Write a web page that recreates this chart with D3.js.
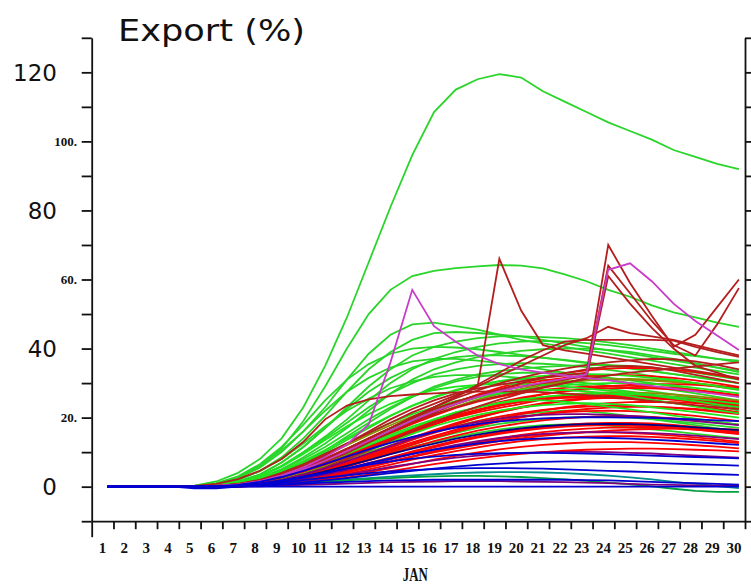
<!DOCTYPE html>
<html>
<head>
<meta charset="utf-8">
<script src="https://cdn.jsdelivr.net/npm/d3@7"></script>
<style>
  html, body { margin: 0; padding: 0; background: #fff; }
  svg { display: block; }
</style>
</head>
<body>
<script>
// Daily export share (%) of ensemble members, January, days 1-30
const days = [1,2,3,4,5,6,7,8,9,10,11,12,13,14,15,16,17,18,19,20,21,22,23,24,25,26,27,28,29,30];
const yTickValues = [-10,0,10,20,30,40,50,60,70,80,90,100,110,120,130];
const bigYLabels = ["120","80","40","0"];
const bigYValues = [120,80,40,0];
const smallYLabels = ["100.","60.","20."];
const smallYValues = [100,60,20];
const monthLabel = "JAN";
const titleText = "Export (%)";

const greenSeries = [
  [0,0,0,0,0.3,1.5,4,8,14,23,35,49,65,81,96,108.5,115,118,119.5,118.5,114.5,111.5,108.5,105.5,103,100.5,97.5,95.5,93.5,92],
  [0,0,0,0,0,0.8,2.5,6,11,19,29,40,50,57,61,62.5,63.3,63.8,64.2,64,63.2,61.5,59.5,57,55,52.5,50.5,49,47.5,46.3],
  [0,0,0,0,0,0.8,2.5,5.5,10,16,23,31,38.5,44,47,47.5,46.5,45.5,44,42.5,41.5,40.5,39.5,38.5,37.5,36.5,35.5,34.5,33.5,32.5],
  [0,0,0,0,0,0.6,2,4.5,8.5,14,20.5,27.5,34,39,42.5,44.5,44.8,44.5,44,43.5,42.5,41.5,40.5,39.5,38.5,37.5,36.5,35.5,34.5,33.5],
  [0,0,0,0,0,0.5,1.5,3.5,7,11.5,17,23,29,34,38,40.5,42,43,43.5,43.5,43.3,43,42.5,41.8,41,40,39,38,37,36],
  [0,0,0,0,0,0.4,1.2,3,6,10,14.5,19.5,25,30,34,37,39,40.5,41.5,42,42.2,42,41.6,41,40.2,39.3,38.5,37.8,37,36.5],
  [0,0,0,0,0,0.3,1,2.5,5,8.5,12.5,17,22,27,31,34,36,37.5,38.5,39.3,39.8,40,40,39.6,39,38,37,35.8,34.5,33.2],
  [0,0,0,0,0,0.5,1.5,3.5,7,11.5,17,22.5,27.5,31.5,34.5,36.5,37.5,38,38,37.8,37.3,36.7,36,35.2,34.4,33.5,32.6,31.7,30.8,30],
  [0,0,0,0,0,0.4,1.3,3,6,10,14,18.5,23,27,30,32.5,34,35,35.5,35.8,35.6,35.2,34.6,33.8,33,32,31,30,29,28],
  [0,0,0,0,0,0.2,0.8,2,4,7,10.5,14.5,18.5,22.5,26,29,31,32.5,33.5,34.2,34.7,35,35.2,35.2,35,34.5,33.8,33,32,31],
  [0,0,0,0,0,0.3,1,2.5,5,8,11.5,15.5,19.5,23,26,28.5,30.5,31.8,32.6,33,33,32.8,32.3,31.6,30.8,30,29,28,27,26],
  [0,0,0,0,0,0.3,1,2.3,4.5,7,10,13.5,17,20.5,23.5,26,28,29.5,30.5,31,31,30.6,30,29.3,28.5,27.6,26.7,25.8,24.9,24],
  [0,0,0,0,0,0.2,0.6,1.4,2.6,4.2,6,8,10,12,14,16,17.6,19,20.2,21,21.6,22,21.8,21.2,20.4,19.6,18.7,17.8,16.9,16],
  [0,0,0,0,0,0.1,0.3,0.8,1.7,3,4.5,6.3,8.2,10.2,12.2,14,15.6,17,18.2,19,19.6,20,20.2,20.3,20,19.6,19,18.4,17.7,17],
  [0,0,0,0,0,0.1,0.4,1,2,3.2,4.6,6.2,8,9.8,11.5,13,14.4,15.6,16.6,17.3,17.8,18,18,17.7,17.2,16.6,16,15.3,14.6,14],
  [0,0,0,0,0.2,1,3,6.5,11.5,18,25,31,35.5,38.5,40,40.5,40.3,39.8,39,38.2,37.4,36.6,35.8,35,34.2,33.4,32.6,31.8,31,30],
  [0,0,0,0,0.2,0.9,2.7,6,10.5,16,22,27.5,31.5,34.5,36.3,37,37,36.5,35.8,35,34,33,32,31,30,29,28,27,26,25],
  [0,0,0,0,0.1,0.7,2,4.5,8,12.5,17.5,22,25.5,28.5,30.5,31.8,32.3,32.3,32,31.5,30.8,30,29.2,28.4,27.5,26.5,25.5,24.5,23.3,22]
];

// Members drawn above the red ones
const greenLateSeries = [
  [0,0,0,0,0,0.2,0.6,1.5,3,5,7.5,10.5,13.5,16.5,19.5,22,24,25.8,27,28,28.8,29.4,29.8,30,30,29.8,29.3,28.6,27.8,27],
  [0,0,0,0,0,0.3,0.9,2,4,6.5,9.5,12.5,15.5,18.5,21,23,24.8,26,27,27.6,28,28,27.6,27,26.2,25.2,24.2,23.2,22.2,21.2],
  [0,0,0,0,0,0.2,0.6,1.5,3,5,7,9.5,12,14.5,17,19.5,21.5,23,24.3,25.3,26,26.5,26.8,27,26.8,26.4,25.6,24.8,23.8,23],
  [0,0,0,0,0,0.2,0.7,1.6,3,5,7.5,10,12.5,15,17.5,19.5,21.5,23,24.2,25,25,24.6,24,23.2,22.4,21.5,20.6,19.7,18.8,18],
  [0,0,0,0,0,0.1,0.4,1,2.2,3.8,5.8,8,10.5,13,15.3,17.5,19.3,20.8,22,23,23.6,24,24.2,24,23.6,23,22.3,21.6,20.8,20],
  [0,0,0,0,0,0.4,1.3,3,5.8,9.5,13.5,17.5,21,24,26.3,28,29,29.5,29.8,29.8,29.5,29,28.4,27.8,27.2,26.6,26,25.4,24.8,24],
  [0,0,0,0,0,0.3,1,2.4,4.6,7.4,10.6,14,17.4,20.6,23.4,25.8,27.8,29.4,30.6,31.5,32.1,32.5,32.6,32.5,32.1,31.5,30.8,30,29.1,28.2]
];

const oliveSeries = [
  [0,0,0,0,0,0.1,0.5,1.3,2.7,4.6,7,9.7,12.6,15.5,18.3,20.9,23.2,25.2,26.9,28.3,29.4,30.2,30.8,31.1,31.2,31,30.6,30,29.3,28.5],
  [0,0,0,0,0,0.1,0.4,1.1,2.3,4,6.1,8.5,11,13.5,16,18.3,20.4,22.2,23.7,24.9,25.9,26.6,27.1,27.3,27.3,27.1,26.7,26.2,25.6,24.9],
  [0,0,0,0,0,0.2,0.8,2,3.8,6.2,9,12,15,17.8,20.4,22.7,24.7,26.4,27.8,28.9,29.8,30.4,30.8,31,31,30.7,30.3,29.7,29,28.2]
];

const redSeries = [
  [0,0,0,0,0,0,0.3,1,2.2,4,6,8.5,11,13.5,16,18.3,20.3,22,23.5,24.7,25.6,26.2,26.6,26.8,26.8,26.5,26,25.4,24.6,23.8],
  [0,0,0,0,0,0,0.4,1.2,2.6,4.6,7,9.8,12.6,15.5,18.2,20.6,22.8,24.6,26,27.2,28,28.6,29,29.2,29.2,29,28.6,28,27.3,26.5],
  [0,0,0,0,0,0,0.3,0.9,2,3.5,5.2,7.2,9.3,11.5,13.6,15.6,17.4,19,20.3,21.4,22.2,22.8,23.2,23.4,23.4,23.2,22.8,22.3,21.7,21],
  [0,0,0,0,0,0.1,0.5,1.3,2.7,4.6,6.8,9.2,11.6,14,16.2,18.2,20,21.5,22.8,24,25.3,26.6,25.8,26,27,25.8,25.2,24.6,23.9,23.2],
  [0,0,0,0,0,0,0.2,0.7,1.6,2.8,4.2,5.8,7.6,9.5,11.4,13.2,14.8,16.2,17.4,18.4,19.2,19.8,20.2,20.4,20.4,20.2,19.8,19.3,18.7,18],
  [0,0,0,0,0,0.1,0.4,1.1,2.4,4.2,6.4,8.9,11.6,14.3,16.8,19.1,21.2,23,24.5,25.8,26.8,27.6,28.2,28.5,28.6,28.5,28.2,27.7,27,26.2],
  [0,0,0,0,0,0,0.2,0.6,1.3,2.4,3.7,5.2,6.8,8.5,10.2,11.8,13.3,14.6,15.7,16.6,17.3,17.8,18.1,18.2,18.1,17.8,17.4,16.9,16.3,15.6],
  [0,0,0,0,0,0.1,0.5,1.3,2.8,4.8,7.2,10,13,16,19,21.8,24.4,26.7,28.7,30.4,31.8,32.9,33.7,34.2,34.4,34.3,33.9,33.2,32.3,31.2],
  [0,0,0,0,0,0,0.3,0.8,1.8,3.2,4.8,6.7,8.7,10.8,12.8,14.7,16.4,17.9,19.2,20.2,21,21.6,21.9,22,21.9,21.6,21.1,20.5,19.8,19],
  [0,0,0,0,0,0,0.1,0.4,1,1.9,3,4.3,5.8,7.3,8.8,10.2,11.5,12.7,13.7,14.5,15.1,15.5,15.7,15.7,15.5,15.2,14.8,14.3,13.7,13],
  [0,0,0,0,0,0.1,0.4,1.2,2.5,4.3,6.5,9,11.6,14.2,16.6,18.8,20.7,22.3,23.6,24.6,25.3,25.7,25.8,25.7,25.4,24.9,24.2,23.4,22.5,21.5],
  [0,0,0,0,0,0,0.3,0.9,2,3.6,5.6,7.9,10.4,13,15.5,17.9,20.1,22.1,23.9,25.4,26.7,27.7,28.5,29.1,29.5,29.7,29.7,29.5,29.1,28.6],
  [0,0,0,0,0,0,0.2,0.6,1.4,2.6,4.1,5.9,7.9,10,12.1,14.1,15.9,17.5,18.9,20.1,21.1,21.9,22.5,22.9,23.1,23.1,22.9,22.5,22,21.4],
  [0,0,0,0,0,0,0.1,0.3,0.8,1.5,2.5,3.7,5,6.4,7.8,9.1,10.3,11.4,12.4,13.2,13.8,14.2,14.5,14.6,14.6,14.4,14.1,13.7,13.2,12.6],
  [0,0,0,0,0,0.1,0.5,1.4,2.9,5,7.6,10.5,13.6,16.7,19.6,22.2,24.5,26.5,28.2,29.6,30.7,31.5,32,32.3,32.3,32,31.5,30.8,29.9,28.9],
  [0,0,0,0,0,0,0.2,0.7,1.6,2.9,4.5,6.4,8.4,10.5,12.6,14.6,16.5,18.2,19.7,21,22.1,23,23.7,24.2,24.5,24.6,24.5,24.2,23.8,23.3],
  [0,0,0,0,0,0,0.2,0.5,1.2,2.2,3.5,5,6.6,8.3,10,11.6,13.1,14.4,15.5,16.5,17.3,17.9,18.3,18.5,18.5,18.3,17.9,17.3,16.6,15.8],
  [0,0,0,0,0,0,0.1,0.3,0.7,1.3,2.1,3.1,4.2,5.4,6.6,7.8,8.9,9.9,10.8,11.5,12.1,12.5,12.8,12.9,12.9,12.7,12.4,12,11.6,11.1],
  [0,0,0,0,0,0.1,0.4,1,2.2,3.9,6,8.4,11,13.6,16.1,18.4,20.4,22.1,23.5,24.6,25.4,25.9,26.2,26.3,26.2,25.9,25.4,24.8,24.1,23.3],
  [0,0,0,0,0,0,0.3,0.8,1.8,3.3,5.1,7.2,9.5,11.9,14.2,16.4,18.4,20.2,21.8,23.1,24.2,25,25.6,26,26.2,26.2,26,25.6,25.1,24.5],
  [0,0,0,0,0,0,0.1,0.4,0.9,1.7,2.8,4.1,5.6,7.1,8.7,10.2,11.6,12.9,14,15,15.8,16.4,16.8,17.1,17.2,17.1,16.9,16.5,16,15.4],
  [0,0,0,0,0,0,0.2,0.6,1.5,2.8,4.5,6.5,8.8,11.2,13.6,15.9,18,19.9,21.5,22.9,24,24.9,25.5,25.9,26,25.9,25.5,25,24.3,23.5],
  [0,0,0,0,0,0,0.1,0.5,1.1,2.1,3.3,4.8,6.4,8.1,9.8,11.4,12.9,14.2,15.3,16.2,16.9,17.4,17.7,17.8,17.7,17.4,17,16.5,15.9,15.2],
  [0,0,0,0,0,0,0.2,0.7,1.7,3.1,4.9,7,9.3,11.7,14,16.2,18.2,20,21.6,22.9,24,24.8,25.4,25.7,25.8,25.6,25.2,24.6,23.8,22.9],
  [0,0,0,0,0,0,0.1,0.3,0.6,1.1,1.8,2.6,3.5,4.5,5.5,6.5,7.4,8.2,8.9,9.5,10,10.4,10.7,10.9,11,11,10.9,10.7,10.5,10.2],
  [0,0,0,0,0,0,0.2,0.5,1.1,2,3.1,4.4,5.8,7.2,8.6,9.9,11.1,12.2,13.2,14,14.7,15.3,15.8,16.2,16.5,16.7,16.8,16.8,16.7,16.5]
];

const darkRedSeries = [
  [0,0,0,0,0,0.2,0.8,2,4,6.5,9.5,12.5,15.5,18.5,21.5,24,26.5,29,66,51,41,39.5,38.5,37.5,36.5,35.5,34.5,33.5,32.5,31.5],
  [0,0,0,0,0,0.2,0.7,1.8,3.6,6,9,12.5,16,19.5,22.5,25,27,28.5,29.5,30.5,31.5,32.2,33,70,59,49.5,40.5,44,52,60],
  [0,0,0,0,0,0.2,0.6,1.6,3.2,5.4,8,11,14,17,19.8,22.4,24.6,26.4,27.8,29,30,31,32,64,56,48,41,38,47,57.5],
  [0,0,0,0,0,0.1,0.5,1.4,2.9,5,7.5,10.3,13.2,16,18.6,21,23,24.8,26.3,27.6,28.8,30,31.5,61,53,46,40,35,33,31],
  [0,0,0,0,0,0.2,0.6,1.6,3.2,5.4,8,11,14,17,20,23,26,29,32,35,38,41,43,46.3,44.5,43.5,42.5,41,39.5,38],
  [0,0,0,0,0,0.2,0.7,1.7,3.4,5.6,8.2,11,14,17,20,23,26,29.5,33,36.5,39.5,42,42.5,42.5,42.5,42.5,42.3,40.5,39,37.6],
  [0,0,0,0,0.2,0.8,2.2,4.6,8,13,19.5,23.5,25.3,26.2,26.7,27,27.3,27.5,27.6,27.6,27.4,27,26.5,26,25.4,24.8,24.2,23.6,23,22.5],
  [0,0,0,0,0,0.1,0.5,1.4,2.9,5,7.6,10.6,13.8,17,20.1,23,25.6,27.9,29.9,31.6,33,34.2,35.2,36,36.6,37,36.9,36.3,35.3,34],
  [0,0,0,0,0,0.1,0.4,1.2,2.6,4.6,7,9.8,12.8,15.8,18.7,21.4,23.9,26.1,28.1,29.9,31.5,32.9,34,34.8,35,34.6,33.6,32.4,31.2,30],
  [0,0,0,0,0,0,0.3,0.9,2,3.6,5.6,8,10.6,13.3,16,18.6,21,23.2,25.2,27,28.6,30,31.2,32.2,33,33.6,34.2,34.8,35.4,36]
];

const magentaSeries = [
  [0,0,0,0,0,0.2,0.6,1.6,3.3,5.6,8.6,12.2,18,36,57,46.5,42,38,35.5,34,33,32.2,31.5,30.8,30,29.2,28.4,27.6,26.8,26],
  [0,0,0,0,0,0.2,0.6,1.5,3,5,7.5,10.3,13.3,16.3,19.2,21.8,24,26,27.6,29,30.2,31.3,32.5,62.8,64.7,59.5,53,48,43.8,39.6]
];

const tealSeries = [
  [0,0,0,0,0,0,0.2,0.5,0.9,1.3,1.7,2.1,2.5,2.9,3.3,3.6,3.9,4.1,4.2,4.2,4.1,3.9,3.6,3.2,2.7,2.1,1.4,0.8,0.2,-0.4]
];

const darkGreenSeries = [
  [0,0,0,0,0,0,0.1,0.3,0.6,1,1.4,1.8,2.2,2.5,2.8,3,3.1,3.1,3,2.8,2.5,2.1,1.7,1.2,0.7,0.1,-0.6,-1.2,-1.5,-1.5]
];

const purpleSeries = [
  [0,0,0,0,0,0,0.3,0.9,2,3.5,5.3,7.4,9.6,11.8,13.9,15.8,17.4,18.7,19.7,20.4,20.8,21,21,20.8,20.5,20.1,19.6,19,18.4,17.8],
  [0,0,0,0,0,0,0.2,0.6,1.3,2.3,3.5,4.9,6.4,7.9,9.4,10.8,12.1,13.2,14.1,14.8,15.3,15.6,15.8,15.8,15.7,15.5,15.2,14.8,14.3,13.8],
  [0,0,0,0,0,0,0.1,0.4,0.9,1.6,2.5,3.5,4.6,5.7,6.7,7.6,8.4,9,9.5,9.8,10,10.1,10.1,10,9.8,9.6,9.3,9,8.7,8.4],
  [0,0,0,0,0,0,0,0.1,0.3,0.5,0.7,0.9,1.1,1.3,1.4,1.5,1.6,1.6,1.6,1.5,1.4,1.3,1.2,1,0.8,0.6,0.5,0.4,0.3,0.3]
];

const blueSeries = [
  [0,0,0,0,-0.5,-0.5,0,0.3,0.6,0.9,1.2,1.4,1.6,1.8,1.9,2,2,2,2,2,2,2,1.9,1.8,1.6,1.4,1.2,1,0.8,0.6],
  [0,0,0,0,0,0,0.2,0.6,1.2,1.9,2.6,3.3,3.9,4.4,4.8,5.1,5.3,5.4,5.4,5.3,5.2,5,4.8,4.6,4.4,4.2,4,3.8,3.6,3.4],
  [0,0,0,0,0,0,0.3,0.9,1.8,2.9,4.1,5.3,6.4,7.3,8.1,8.7,9.2,9.5,9.7,9.8,9.8,9.7,9.6,9.4,9.2,9,8.8,8.6,8.4,8.2],
  [0,0,0,0,0,0.1,0.5,1.4,2.8,4.6,6.6,8.7,10.8,12.7,14.4,15.9,17.1,18.1,18.9,19.4,19.8,20,20.1,20.1,20,19.9,19.7,19.5,19.2,19],
  [0,0,0,0,0,0,0.2,0.7,1.5,2.6,3.9,5.3,6.8,8.2,9.5,10.7,11.7,12.5,13.2,13.7,14,14.2,14.2,14.1,13.9,13.6,13.3,12.9,12.5,12.1],
  [0,0,0,0,0,0,0.1,0.3,0.7,1.2,1.8,2.5,3.2,3.9,4.6,5.2,5.8,6.3,6.7,7,7.2,7.3,7.3,7.2,7.1,6.9,6.7,6.5,6.3,6.1],
  [0,0,0,0,0,0,0,0,0,0,0,0,0,0,0,0,0,0,0,0,0,0,0,0,0,0,0,0,0,0]
];

const navySeries = [
  [0,0,0,0,0,0,0.3,0.8,1.7,2.9,4.4,6,7.7,9.4,11,12.5,13.9,15.1,16.1,16.9,17.5,17.9,18.1,18.2,18.1,17.9,17.6,17.2,16.8,16.4]
];

// Drawing order, bottom to top, with the colour of each group
const groups = [
  { series: greenSeries, color: "#2ad52a" },
  { series: oliveSeries, color: "#8c8c00" },
  { series: redSeries, color: "#ff0000" },
  { series: greenLateSeries, color: "#1ee61e" },
  { series: darkRedSeries, color: "#b41e1e" },
  { series: magentaSeries, color: "#c83cc8" },
  { series: tealSeries, color: "#008c8c" },
  { series: darkGreenSeries, color: "#00a040" },
  { series: purpleSeries, color: "#800080" },
  { series: navySeries, color: "#000088" },
  { series: blueSeries, color: "#0000d0" }
];

const W = 751, H = 584;
const svg = d3.select("body").append("svg").attr("width", W).attr("height", H);

const x = d3.scaleLinear().domain([0.5, 30.5]).range([91.7, 745]);
const y = d3.scaleLinear().domain([-10, 130]).range([521.2, 37.8]);
const pointShift = 0.22; // daily values sit a little right of the day centre

const line = d3.line()
  .x((v, i) => x(days[i] + pointShift))
  .y(v => y(v));

const plot = svg.append("g");
groups.forEach(g => {
  plot.append("g")
    .selectAll("path")
    .data(g.series)
    .join("path")
    .attr("d", line)
    .attr("fill", "none")
    .attr("stroke", g.color)
    .attr("stroke-width", 1.8)
    .attr("stroke-linejoin", "miter");
});

// Axes
const axisStyle = sel => {
  sel.selectAll("path, line").attr("stroke", "#111").attr("stroke-width", 1.8);
  sel.selectAll("text").remove();
};

svg.append("g").attr("transform", "translate(91.7,0)")
  .call(d3.axisLeft(y).tickValues(yTickValues).tickSize(10).tickSizeOuter(0).tickFormat(""))
  .call(axisStyle);

svg.append("g").attr("transform", "translate(745,0)")
  .call(d3.axisRight(y).tickValues(yTickValues).tickSize(10).tickSizeOuter(0).tickFormat(""))
  .call(axisStyle);

const dayBounds = days.slice(0, 29).map(d => d + 0.5);
svg.append("g").attr("transform", "translate(0,521.2)")
  .call(d3.axisBottom(x).tickValues(dayBounds).tickSize(8).tickSizeOuter(0).tickFormat(""))
  .call(axisStyle);

// Frame corners below the time axis
const corner = svg.append("g").attr("transform", "translate(0,521.2)")
  .call(d3.axisBottom(x).tickValues([0.5]).tickSize(16).tickFormat(""))
  .call(axisStyle);
corner.select("path").remove();
const corner2 = svg.append("g").attr("transform", "translate(0,521.2)")
  .call(d3.axisBottom(x).tickValues([30.5]).tickSize(8).tickFormat(""))
  .call(axisStyle);
corner2.select("path").remove();

// Day labels, centred between ticks
svg.append("g")
  .selectAll("text")
  .data(days)
  .join("text")
  .attr("x", d => x(d))
  .attr("y", 553)
  .attr("text-anchor", "middle")
  .attr("font-family", "'Liberation Serif', 'DejaVu Serif', serif")
  .attr("font-weight", "bold")
  .attr("font-size", 15)
  .attr("fill", "#111")
  .text(d => String(d));

svg.append("text")
  .attr("x", (x(0.5) + x(30.5)) / 2 - 3)
  .attr("y", 581)
  .attr("text-anchor", "middle")
  .attr("font-family", "'Liberation Serif', 'DejaVu Serif', serif")
  .attr("font-weight", "bold")
  .attr("font-size", 19)
  .attr("textLength", 25)
  .attr("lengthAdjust", "spacingAndGlyphs")
  .attr("fill", "#111")
  .text(monthLabel);

// Small serif value labels
svg.append("g")
  .selectAll("text")
  .data(smallYValues)
  .join("text")
  .attr("x", 77)
  .attr("y", v => y(v))
  .attr("dy", "0.35em")
  .attr("text-anchor", "end")
  .attr("font-family", "'Liberation Serif', 'DejaVu Serif', serif")
  .attr("font-weight", "bold")
  .attr("font-size", 13)
  .attr("fill", "#111")
  .text((v, i) => smallYLabels[i]);

// Large value labels
svg.append("g")
  .selectAll("text")
  .data(bigYValues)
  .join("text")
  .attr("x", 57)
  .attr("y", v => y(v))
  .attr("dy", "0.36em")
  .attr("text-anchor", "end")
  .attr("font-family", "'DejaVu Sans', sans-serif")
  .attr("font-size", 23)
  .attr("fill", "#111")
  .text((v, i) => bigYLabels[i]);

// Title
svg.append("text")
  .attr("x", 118)
  .attr("y", 41)
  .attr("font-family", "'DejaVu Sans', sans-serif")
  .attr("font-size", 31)
  .attr("textLength", 187)
  .attr("lengthAdjust", "spacingAndGlyphs")
  .attr("fill", "#111")
  .text(titleText);
</script>
</body>
</html>
